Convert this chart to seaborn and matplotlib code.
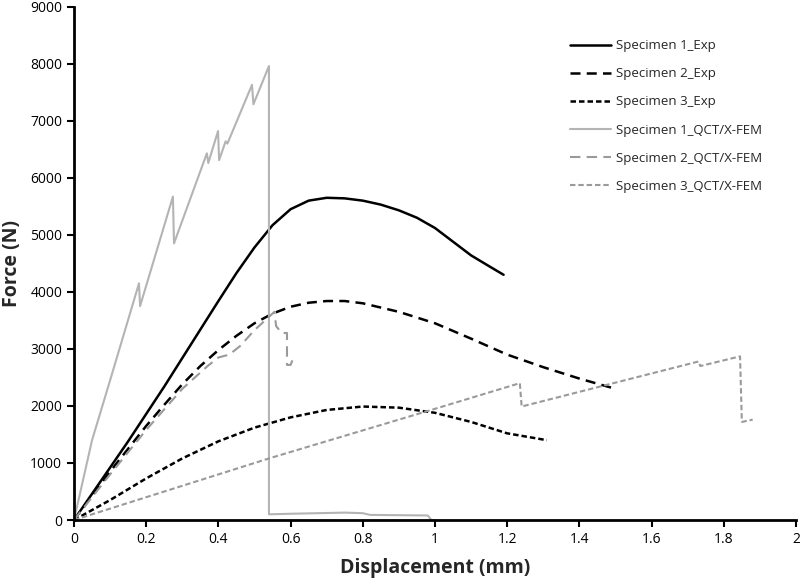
import numpy as np
import pandas as pd
import matplotlib
matplotlib.use("Agg")
import matplotlib.pyplot as plt
import seaborn as sns

# Experimental curves
exp1_x = [0, 0.05, 0.1, 0.15, 0.2, 0.25, 0.3, 0.35, 0.4, 0.45, 0.5, 0.55, 0.6, 0.65, 0.7,
          0.75, 0.8, 0.85, 0.9, 0.95, 1.0, 1.05, 1.1, 1.15, 1.19]
exp1_y = [0, 460, 920, 1380, 1860, 2340, 2840, 3340, 3840, 4330, 4780, 5170, 5450, 5600, 5650,
          5640, 5600, 5530, 5430, 5300, 5120, 4880, 4640, 4450, 4300]

exp2_x = [0, 0.05, 0.1, 0.15, 0.2, 0.25, 0.3, 0.35, 0.4, 0.45, 0.5, 0.55, 0.6, 0.65, 0.7,
          0.75, 0.8, 0.9, 1.0, 1.1, 1.2, 1.3, 1.4, 1.5]
exp2_y = [0, 430, 850, 1250, 1650, 2020, 2380, 2700, 2980, 3230, 3450, 3620, 3740, 3810, 3840,
          3840, 3800, 3650, 3450, 3180, 2900, 2680, 2480, 2300]

exp3_x = [0, 0.1, 0.2, 0.3, 0.4, 0.5, 0.6, 0.7, 0.8, 0.9, 1.0, 1.1, 1.2, 1.31]
exp3_y = [0, 350, 730, 1080, 1380, 1620, 1800, 1930, 1990, 1970, 1880, 1720, 1520, 1400]

# QCT/X-FEM curves
fem1_x = [0, 0.05, 0.1, 0.18, 0.183, 0.274, 0.277, 0.368, 0.372, 0.399, 0.402, 0.42, 0.425,
          0.493, 0.497, 0.54, 0.54, 0.6, 0.75, 0.8, 0.82, 0.98, 0.99, 1.0]
fem1_y = [0, 1400, 2450, 4150, 3750, 5670, 4850, 6430, 6260, 6820, 6310, 6640, 6600,
          7630, 7290, 7960, 100, 110, 130, 120, 90, 80, 0, 0]

fem2_x = [0, 0.1, 0.2, 0.3, 0.37, 0.4, 0.43, 0.46, 0.5, 0.555, 0.56, 0.575, 0.59, 0.59,
          0.6, 0.605, 0.615]
fem2_y = [0, 800, 1580, 2300, 2700, 2850, 2900, 3050, 3330, 3650, 3400, 3280, 3280, 2720,
          2720, 2800, 2800]

fem3_x = [0, 0.54, 1.0, 1.235, 1.24, 1.73, 1.735, 1.845, 1.85, 1.88]
fem3_y = [0, 1080, 1950, 2400, 1990, 2780, 2700, 2870, 1720, 1760]

labels = ["Specimen 1_Exp", "Specimen 2_Exp", "Specimen 3_Exp",
          "Specimen 1_QCT/X-FEM", "Specimen 2_QCT/X-FEM", "Specimen 3_QCT/X-FEM"]

sns.set_style("white")
plt.rcParams['font.family'] = ['Open Sans', 'DejaVu Sans']

fig = plt.figure(figsize=(8, 5.8), dpi=100)
ax = fig.add_axes([0.0925, 0.1034, 0.9025, 0.885])

series = [
    (exp1_x, exp1_y, "black", 1.8, "-"),
    (exp2_x, exp2_y, "black", 1.8, (0, (4, 2.5))),
    (exp3_x, exp3_y, "black", 1.8, (0, (2.2, 1.2))),
    (fem1_x, fem1_y, "#b4b4b4", 1.5, "-"),
    (fem2_x, fem2_y, "#9a9a9a", 1.5, (0, (5, 3))),
    (fem3_x, fem3_y, "#9a9a9a", 1.5, (0, (2.6, 1.4))),
]
for (xs, ys, c, lw, ls), lab in zip(series, labels):
    sns.lineplot(x=xs, y=ys, ax=ax, sort=False, estimator=None, color=c,
                 linewidth=lw, linestyle=ls, label=lab)

ax.set_xlim(0, 2)
ax.set_ylim(0, 9000)
ax.set_xticks(np.arange(0, 2.01, 0.2))
ax.set_xticklabels(["0", "0.2", "0.4", "0.6", "0.8", "1", "1.2", "1.4", "1.6", "1.8", "2"])
ax.set_yticks(np.arange(0, 9001, 1000))
ax.tick_params(axis='both', direction='out', length=5, width=1.5, labelsize=10,
               colors='black', bottom=True, left=True)
for s in ['top', 'right']:
    ax.spines[s].set_visible(False)
for s in ['left', 'bottom']:
    ax.spines[s].set_linewidth(2)
    ax.spines[s].set_color('black')

ax.set_xlabel("Displacement (mm)", fontsize=14, fontweight='bold', labelpad=8)
ax.set_ylabel("Force (N)", fontsize=14, fontweight='bold', labelpad=6)

ax.legend(loc='upper left', bbox_to_anchor=(0.67, 0.96), frameon=False, fontsize=9.5,
          handlelength=3.1, handletextpad=0.4, labelspacing=1.15)

fig.savefig("out.png", dpi=100)
